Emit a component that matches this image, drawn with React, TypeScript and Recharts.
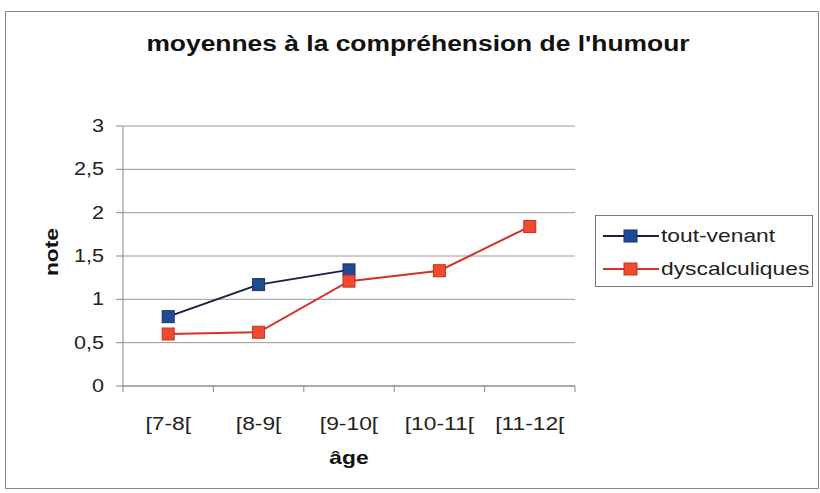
import { LineChart, Line, XAxis, YAxis, CartesianGrid } from "recharts";

const categories = ["[7-8[", "[8-9[", "[9-10[", "[10-11[", "[11-12["];
const toutVenant = [0.8, 1.17, 1.34, null, null];
const dyscalculiques = [0.6, 0.62, 1.21, 1.33, 1.84];
const yTicks = [0, 0.5, 1, 1.5, 2, 2.5, 3];

const data = categories.map((age, i) => ({
  age,
  toutVenant: toutVenant[i],
  dyscalculiques: dyscalculiques[i],
}));

const W = 820;
const H = 493;
const margin = { top: 126, right: 245, bottom: 0, left: 0 };
const yAxisWidth = 123;
const plotWidth = W - margin.left - margin.right - yAxisWidth;
const band = plotWidth / categories.length;

const FONT = "Arial, 'Liberation Sans', sans-serif";
// the scanned original is a bit wider than tall
const STRETCH = 1.2;

const SquareDot = ({ cx, cy, fill, stroke }: any) => {
  if (cx == null || cy == null) return null;
  return <rect x={cx - 6} y={cy - 6} width={12} height={12} fill={fill} stroke={stroke} strokeWidth={1} />;
};

const XTick = ({ x, y, payload, index }: any) => {
  const left = x - band / 2;
  return (
    <g>
      <line x1={left} y1={y - 8} x2={left} y2={y - 2} stroke="#888" />
      {index === categories.length - 1 && (
        <line x1={x + band / 2} y1={y - 8} x2={x + band / 2} y2={y - 2} stroke="#888" />
      )}
      <text
        transform={`translate(${x},${y + 36}) scale(${STRETCH},1)`}
        textAnchor="middle"
        fontSize={19}
        fill="#222"
        fontFamily={FONT}
      >
        {payload.value}
      </text>
    </g>
  );
};

const YTick = ({ x, y, payload }: any) => (
  <text
    transform={`translate(${x - 6},${y + 6}) scale(${STRETCH},1)`}
    textAnchor="end"
    fontSize={18}
    fill="#222"
    fontFamily={FONT}
  >
    {String(payload.value).replace(".", ",")}
  </text>
);

const series = [
  { name: "tout-venant", key: "toutVenant", line: "#1b1f45", fill: "#1f4a95", stroke: "#17306a" },
  { name: "dyscalculiques", key: "dyscalculiques", line: "#d6302a", fill: "#f04a30", stroke: "#c83020" },
];

const Stretched = ({ children }: any) => (
  <span style={{ display: "inline-block", transform: `scaleX(${STRETCH})`, transformOrigin: "left center" }}>
    {children}
  </span>
);

const LegendBox = () => (
  <div
    style={{
      position: "absolute",
      left: 595,
      top: 215,
      width: 218,
      height: 72,
      border: "1px solid #777",
      background: "#fff",
      padding: "3px 0 3px 7px",
      fontFamily: FONT,
      fontSize: 19,
      color: "#222",
      boxSizing: "border-box",
    }}
  >
    {series.map((s) => (
      <div key={s.name} style={{ display: "flex", alignItems: "center", height: 33 }}>
        <svg width={56} height={16} style={{ marginRight: 2 }}>
          <line x1={0} y1={8} x2={56} y2={8} stroke={s.line} strokeWidth={2} />
          <rect x={21} y={2} width={13} height={12} fill={s.fill} stroke={s.stroke} />
        </svg>
        <Stretched>{s.name}</Stretched>
      </div>
    ))}
  </div>
);

export default function App() {
  return (
    <div style={{ position: "absolute", left: 0, top: 0, width: W, height: H, background: "#fff" }}>
      <div
        style={{
          position: "absolute",
          left: 5,
          top: 11,
          width: 812,
          height: 476,
          border: "1px solid #888",
        }}
      />
      <div
        style={{
          position: "absolute",
          left: 0,
          top: 31,
          width: 836,
          textAlign: "center",
          fontFamily: FONT,
          fontWeight: "bold",
          fontSize: 22,
          color: "#111",
          transform: `scaleX(${STRETCH})`,
          transformOrigin: "418px 0",
        }}
      >
        moyennes à la compréhension de l'humour
      </div>
      <div
        style={{
          position: "absolute",
          left: 349 - 40,
          top: 447,
          width: 80,
          textAlign: "center",
          fontFamily: FONT,
          fontWeight: "bold",
          fontSize: 19,
          color: "#111",
          transform: `scaleX(${STRETCH})`,
        }}
      >
        âge
      </div>
      <div
        style={{
          position: "absolute",
          left: 52 - 40,
          top: 253 - 12,
          width: 80,
          textAlign: "center",
          fontFamily: FONT,
          fontWeight: "bold",
          fontSize: 19,
          color: "#111",
          transform: `rotate(-90deg) scaleX(${STRETCH})`,
        }}
      >
        note
      </div>
      <LineChart width={W} height={H} data={data} margin={margin} style={{ position: "absolute", left: 0, top: 0 }}>
        <CartesianGrid vertical={false} stroke="#999" />
        <XAxis
          dataKey="age"
          scale="band"
          height={107}
          axisLine={{ stroke: "#888" }}
          tickLine={false}
          tick={<XTick />}
          interval={0}
        />
        <YAxis
          width={yAxisWidth}
          domain={[0, 3]}
          ticks={yTicks}
          axisLine={{ stroke: "#888" }}
          tickLine={{ stroke: "#888" }}
          tickSize={7}
          tick={<YTick />}
          tickMargin={6}
        />
        {series.map((s) => (
          <Line
            key={s.name}
            name={s.name}
            dataKey={s.key}
            stroke={s.line}
            strokeWidth={2}
            dot={<SquareDot fill={s.fill} stroke={s.stroke} />}
            activeDot={false}
            isAnimationActive={false}
            connectNulls={false}
          />
        ))}
      </LineChart>
      <LegendBox />
    </div>
  );
}
